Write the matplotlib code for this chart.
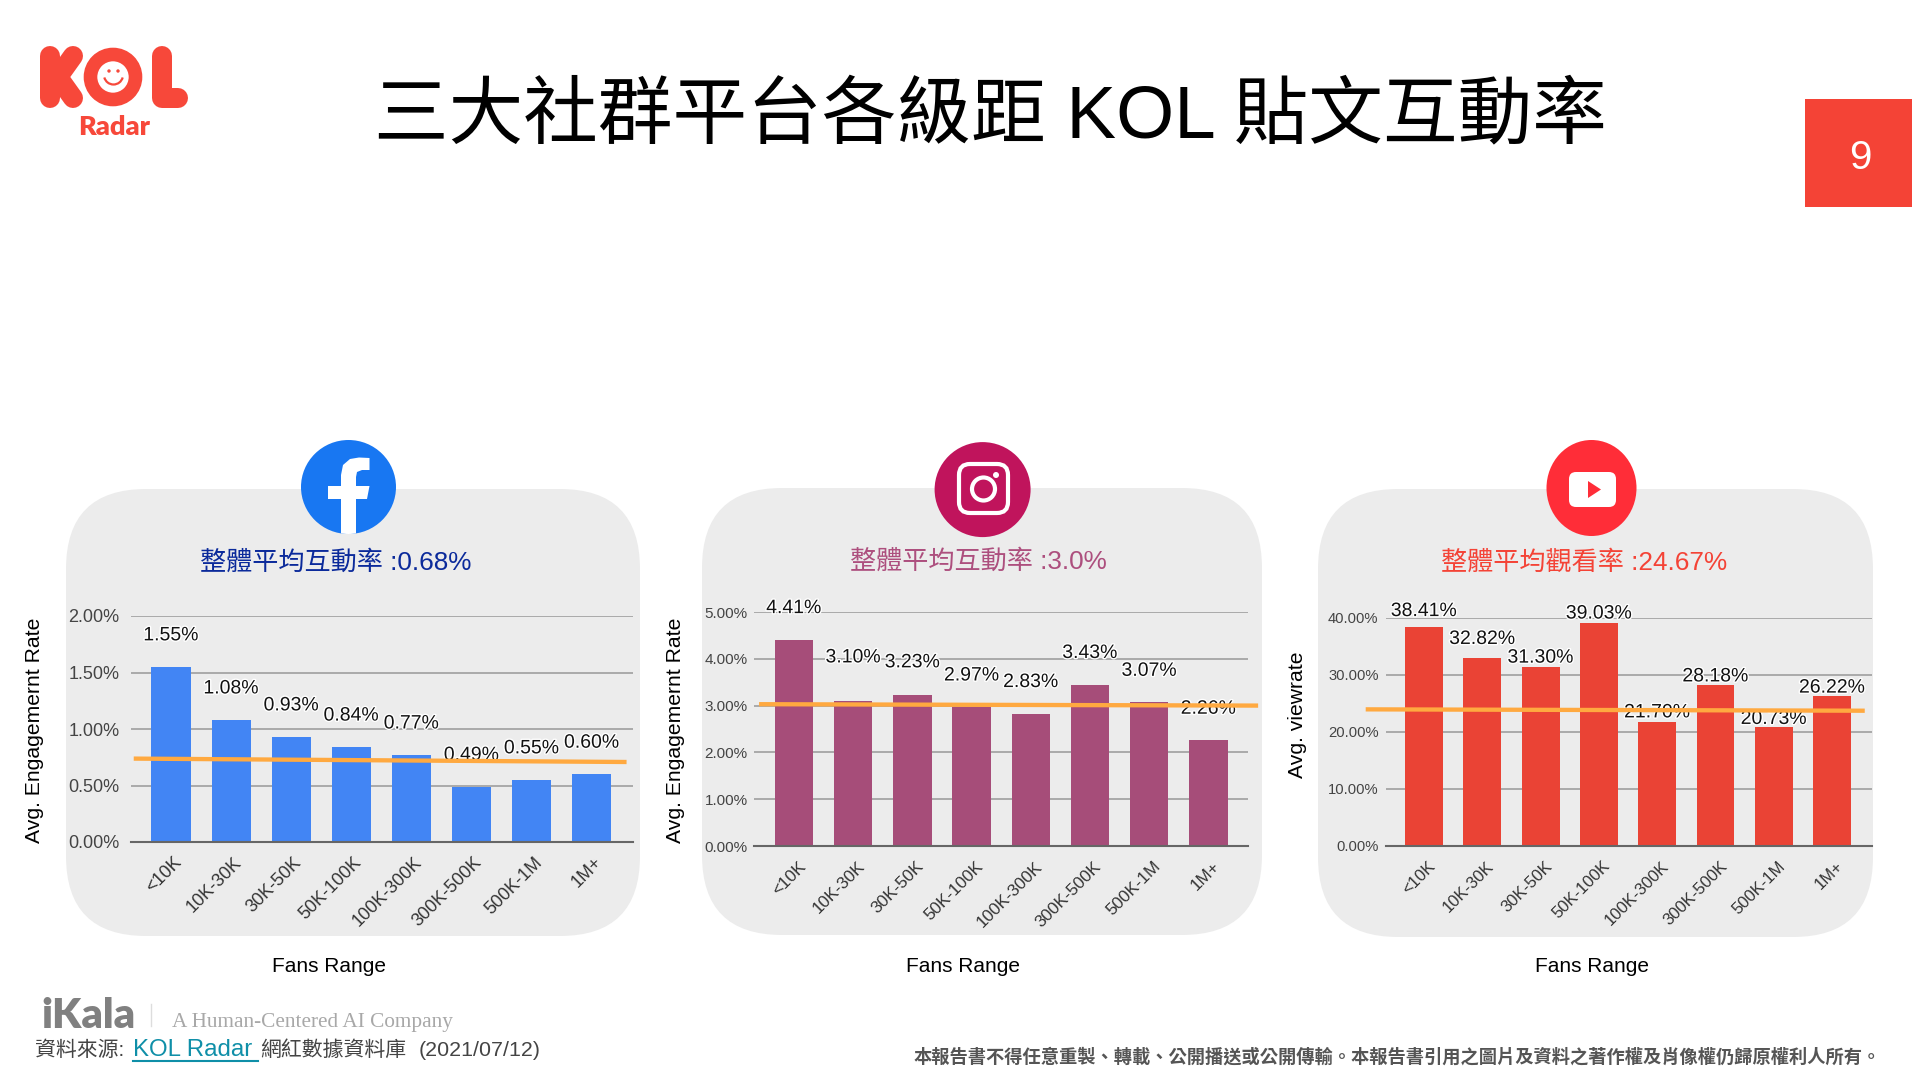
import matplotlib
matplotlib.use("Agg")
import matplotlib.pyplot as plt
from matplotlib.patches import Circle, Ellipse, FancyBboxPatch, Polygon, Rectangle, Arc
from matplotlib.transforms import ScaledTranslation
import matplotlib.patheffects as path_effects

plt.rcParams["font.family"] = ["Liberation Sans", "Noto Sans CJK TC"]

fans_ranges = ["<10K", "10K-30K", "30K-50K", "50K-100K", "100K-300K", "300K-500K", "500K-1M", "1M+"]

fb_rates = [1.55, 1.08, 0.93, 0.84, 0.77, 0.49, 0.55, 0.60]
ig_rates = [4.41, 3.10, 3.23, 2.97, 2.83, 3.43, 3.07, 2.26]
yt_rates = [38.41, 32.82, 31.30, 39.03, 21.70, 28.18, 20.73, 26.22]

fb_trend = [0.738, 0.708]
ig_trend = [3.03, 3.00]
yt_trend = [23.9, 23.66]

fb_ticks = [0, 0.5, 1.0, 1.5, 2.0]
ig_ticks = [0, 1, 2, 3, 4, 5]
yt_ticks = [0, 10, 20, 30, 40]

W = 1912
H = 1074

fig = plt.figure(figsize=(W / 100, H / 100), dpi=100)

# whole slide, drawn in pixels of the reference
bg = fig.add_axes([0, 0, 1, 1])
bg.set_xlim(0, W)
bg.set_ylim(H, 0)
bg.axis("off")

red = "#F7483A"

###########Grey cards###################

for x0, x1, y0, y1 in [(66, 640, 489, 936), (702, 1262, 488, 935), (1318, 1873, 489, 937)]:
    r = 80
    bg.add_patch(FancyBboxPatch((x0 + r, y0 + r), x1 - x0 - 2 * r, y1 - y0 - 2 * r,
                                boxstyle=f"round,pad={r},rounding_size={r}", fc="#ececec", ec="none"))

###########Logos###################

# KOL Radar
bg.plot([50, 50], [56, 98], color=red, lw=14.4, solid_capstyle="round")
bg.plot([73, 58, 73], [56, 77, 98], color=red, lw=14.4, solid_capstyle="round", solid_joinstyle="round")
bg.plot([162, 162, 178], [56, 98, 98], color=red, lw=14.4, solid_capstyle="round", solid_joinstyle="round")
bg.add_patch(Circle((113, 77), 22.5, fc="none", ec=red, lw=9.8))
bg.add_patch(Circle((109, 71), 1.7, fc=red, ec="none"))
bg.add_patch(Circle((118, 71), 1.7, fc=red, ec="none"))
bg.add_patch(Arc((113.5, 75), 19, 19, theta1=15, theta2=165, color=red, lw=1.6))
bg.text(114, 127, "Radar", color=red, fontsize=19.5, fontweight="heavy", family="Lato", ha="center", va="center")

# Facebook
fb_circle = Ellipse((348.5, 487), 95, 94, fc="#1877F2", ec="none")
bg.add_patch(fb_circle)
fb_f = Polygon([(341, 534), (341, 499), (328, 499), (328, 486), (341, 486), (341, 475), (343, 465), (350, 459),
                (359, 457.5), (369.5, 458), (369.5, 470), (362, 470), (357, 472), (356, 477), (356, 486),
                (369.5, 486), (367, 499), (356, 499), (356, 534)], fc="white", ec="none")
bg.add_patch(fb_f)
fb_f.set_clip_path(fb_circle)

# Instagram
bg.add_patch(Ellipse((982.6, 489.6), 96, 95, fc="#C0145C", ec="none"))
bg.add_patch(FancyBboxPatch((969, 474), 29, 29, boxstyle="round,pad=10,rounding_size=11", fc="none", ec="white", lw=3))
bg.add_patch(Circle((983.5, 489), 11.5, fc="none", ec="white", lw=3))
bg.add_patch(Circle((996, 475), 3, fc="white", ec="none"))

# YouTube
bg.add_patch(Ellipse((1591.5, 488), 90, 96, fc="#FF2D38", ec="none"))
bg.add_patch(FancyBboxPatch((1575, 478), 35, 23, boxstyle="round,pad=6,rounding_size=7", fc="white", ec="none"))
bg.add_patch(Polygon([(1588, 481), (1601, 489.5), (1588, 498)], fc="#FF2D38", ec="none"))

# page number
bg.add_patch(Rectangle((1805, 99), 107, 108, fc="#F44336", ec="none"))
bg.text(1860, 158, "9", color="white", fontsize=29, ha="center", va="center")

###########Texts###################

bg.text(990, 117, "三大社群平台各級距 KOL 貼文互動率", fontsize=53.7, color="black", ha="center", va="center")

bg.text(336, 562.5, "整體平均互動率 :0.68%", fontsize=18.8, color="#0B2A9B", ha="center", va="center")
bg.text(978, 561.5, "整體平均互動率 :3.0%", fontsize=18.8, color="#AD4F7E", ha="center", va="center")
bg.text(1584, 562.5, "整體平均觀看率 :24.67%", fontsize=18.8, color="#F44336", ha="center", va="center")

bg.text(41, 1016, "iKala", fontsize=30, fontweight="heavy", family="Lato", color="#808080", va="center")
bg.plot([151, 151], [1004, 1026], color="#dddddd", lw=1)
bg.text(172, 1022, "A Human-Centered AI Company", fontsize=15.3, family="Liberation Serif", color="#a8a8a8", va="center")

bg.text(35, 1050, "資料來源:", fontsize=15, color="#444444", va="center")
bg.text(133, 1050, "KOL Radar", fontsize=17.3, color="#0F8FA8", va="center")
bg.plot([133, 258], [1061, 1061], color="#0F8FA8", lw=1.5)
bg.text(260, 1050, "網紅數據資料庫", fontsize=15, color="#444444", va="center")
bg.text(419, 1050, "(2021/07/12)", fontsize=15.4, color="#444444", va="center")

bg.text(1881, 1057, "本報告書不得任意重製、轉載、公開播送或公開傳輸。本報告書引用之圖片及資料之著作權及肖像權仍歸原權利人所有。",
        fontsize=13.15, fontweight="bold", color="#555555", ha="right", va="center")

###########Charts###################

panels = [
    dict(rates=fb_rates, trend=fb_trend, ticks=fb_ticks, color="#4285F4", x0=130.5, x1=632.6, y0=616, y1=842,
         first=171, step=60.1, tick_size=13, tick_pad=8, cat_size=13, cat_shift=8, lift=[31] * 8, line_x=[-0.62, 7.58],
         ylabel="Avg. Engagemernt Rate", ylabel_x=35, ylabel_y=730, xlabel_x=329.5),
    dict(rates=ig_rates, trend=ig_trend, ticks=ig_ticks, color="#A64D79", x0=754, x1=1248, y0=612, y1=846,
         first=794, step=59.2, tick_size=11, tick_pad=4.5, cat_size=12.3, cat_shift=9, lift=[31, 43, 32, 31, 31, 32, 31, 31],
         line_x=[-0.59, 7.84], ylabel="Avg. Engagemernt Rate", ylabel_x=676, ylabel_y=730, xlabel_x=963),
    dict(rates=yt_rates, trend=yt_trend, ticks=yt_ticks, color="#EA4335", x0=1385.5, x1=1872, y0=617.5, y1=845.7,
         first=1424, step=58.3, tick_size=10.6, tick_pad=5, cat_size=12, cat_shift=9, lift=[15, 19, 9, 9, 9, 8, 8, 8],
         line_x=[-1.0, 7.56], ylabel="Avg. viewrate", ylabel_x=1298, ylabel_y=715, xlabel_x=1592),
]

for p in panels:
    ax = fig.add_axes([p["x0"] / W, 1 - p["y1"] / H, (p["x1"] - p["x0"]) / W, (p["y1"] - p["y0"]) / H])
    ax.patch.set_alpha(0)
    positions = list(range(len(fans_ranges)))

    ax.bar(positions, p["rates"], width=0.65, color=p["color"], zorder=2)
    ax.set_xlim((p["x0"] - p["first"]) / p["step"], (p["x1"] - p["first"]) / p["step"])
    ax.set_ylim(0, p["ticks"][-1])

    ax.set_yticks(p["ticks"])
    ax.set_yticklabels([f"{t:.2f}%" for t in p["ticks"]], fontsize=p["tick_size"], color="#444444")
    ax.tick_params(axis="both", length=0)
    ax.tick_params(axis="y", pad=p["tick_pad"])
    ax.grid(axis="y", color="#aaaaaa", linewidth=1.4, zorder=1)
    ax.set_axisbelow(True)

    for side in ["top", "right", "left"]:
        ax.spines[side].set_visible(False)
    ax.spines["bottom"].set_color("#666666")
    ax.spines["bottom"].set_linewidth(1.5)

    ax.set_xticks(positions)
    ax.set_xticklabels(fans_ranges, rotation=45, ha="right", va="center", rotation_mode="anchor",
                       fontsize=p["cat_size"], color="#333333")
    ax.tick_params(axis="x", pad=13)
    for label in ax.get_xticklabels():
        label.set_transform(label.get_transform() + ScaledTranslation(p["cat_shift"] / 100, 0, fig.dpi_scale_trans))

    # values above the bars
    for pos, rate, lift in zip(positions, p["rates"], p["lift"]):
        ax.annotate(f"{rate:.2f}%", (pos, rate), xytext=(0, lift), textcoords="offset pixels",
                    ha="center", va="center", fontsize=14, color="#111111", zorder=3,
                    path_effects=[path_effects.withStroke(linewidth=2, foreground="white")])

    ax.plot(p["line_x"], p["trend"], color="#FFA940", linewidth=3.1, zorder=4, clip_on=False, solid_capstyle="butt")

    bg.text(p["ylabel_x"], p["ylabel_y"], p["ylabel"], rotation=90, fontsize=15.2, color="black", ha="center", va="center")
    bg.text(p["xlabel_x"], 967, "Fans Range", fontsize=15, color="black", ha="center", va="center")

plt.savefig("out.png", dpi=100)
